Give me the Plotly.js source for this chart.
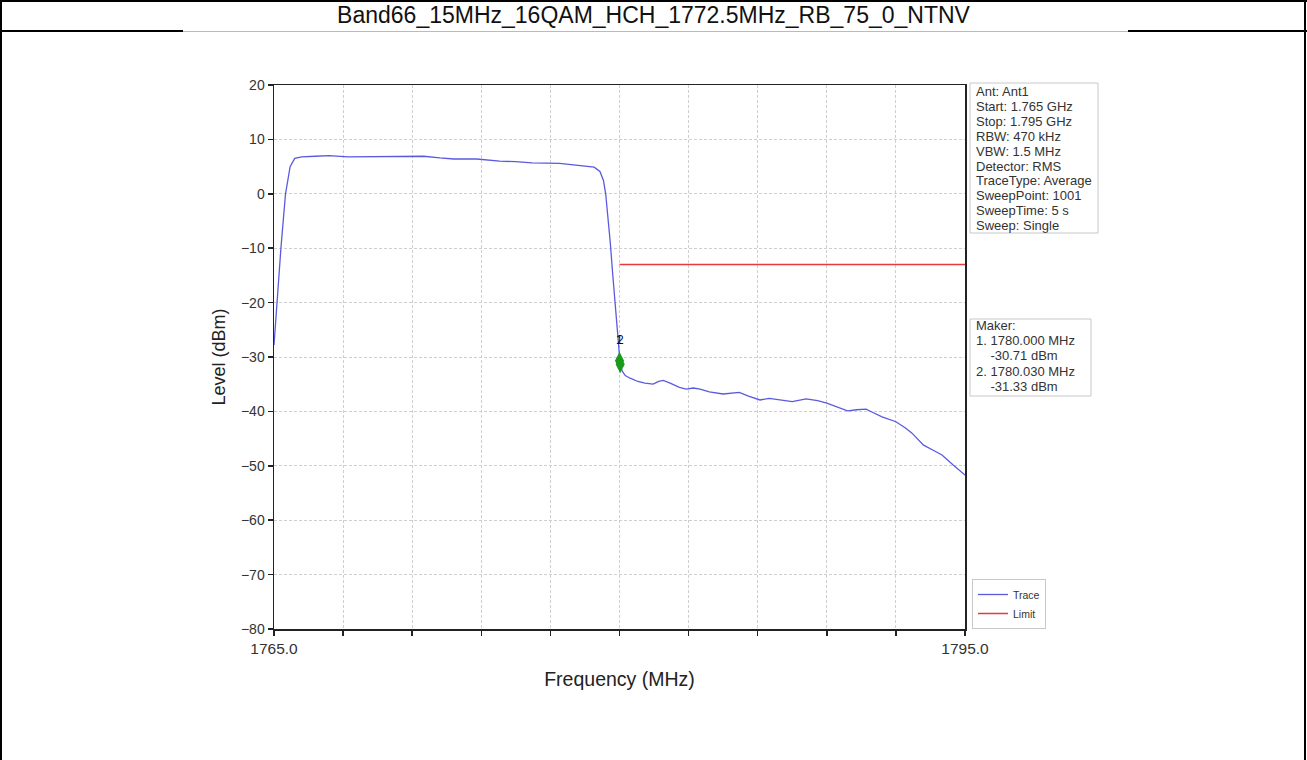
<!DOCTYPE html>
<html>
<head>
<meta charset="utf-8">
<script src="https://cdn.plot.ly/plotly-3.0.1.min.js"></script>
<style>
  html, body { margin: 0; padding: 0; background: #fff; }
  #wrap { position: relative; width: 1307px; height: 760px; overflow: hidden; }
  #chart { position: absolute; left: 0; top: 0; width: 1307px; height: 760px; }
  .ln { position: absolute; pointer-events: none; }
</style>
</head>
<body>
<div id="wrap">
  <div id="chart"></div>
  <div class="ln" style="left:0;top:0;width:1307px;height:2px;background:#000"></div>
  <div class="ln" style="left:0;top:0;width:2px;height:760px;background:#000"></div>
  <div class="ln" style="left:1304px;top:0;width:2px;height:760px;background:#000"></div>
  <div class="ln" style="left:0;top:30px;width:183px;height:2px;background:#000"></div>
  <div class="ln" style="left:183px;top:31px;width:945px;height:1px;background:#bbb"></div>
  <div class="ln" style="left:1128px;top:30px;width:179px;height:2px;background:#000"></div>
</div>
<script>
const pageTitle = "Band66_15MHz_16QAM_HCH_1772.5MHz_RB_75_0_NTNV";

const traceFreq = [1765.0, 1765.13, 1765.3, 1765.5, 1765.7, 1765.9, 1766.2, 1766.8, 1767.4, 1768.2,
  1769.0, 1769.9, 1770.8, 1771.5, 1772.2, 1772.8, 1773.8, 1774.8, 1775.5, 1776.2,
  1777.4, 1778.2, 1778.9, 1779.15, 1779.3, 1779.4, 1779.5, 1779.6, 1779.7, 1779.8,
  1779.9, 1780.0, 1780.03, 1780.12, 1780.25, 1780.46, 1780.8, 1781.1, 1781.46, 1781.7,
  1781.9, 1782.2, 1782.6, 1782.9, 1783.2, 1783.5, 1783.9, 1784.5, 1784.9, 1785.2,
  1785.6, 1786.1, 1786.5, 1787.0, 1787.5, 1788.1, 1788.6, 1789.0, 1789.5, 1789.9,
  1790.3, 1790.7, 1791.0, 1791.4, 1792.0, 1792.4, 1792.7, 1793.2, 1793.6, 1794.0,
  1794.5, 1795.0];
const traceLevel = [-27.8, -20.0, -10.0, 0.0, 5.0, 6.5, 6.8, 6.9, 7.0, 6.8,
  6.8, 6.8, 6.8, 6.9, 6.6, 6.4, 6.4, 6.0, 5.9, 5.7,
  5.6, 5.3, 4.9, 4.1, 2.5, 0.0, -4.0, -9.0, -14.5, -19.5,
  -25.0, -30.0, -31.33, -32.6, -33.4, -33.9, -34.5, -34.8, -35.0, -34.5,
  -34.3, -34.8, -35.6, -35.9, -35.7, -35.9, -36.4, -36.8, -36.6, -36.5,
  -37.2, -37.9, -37.6, -37.9, -38.2, -37.7, -38.0, -38.5, -39.3, -39.9,
  -39.7, -39.6, -40.2, -41.0, -41.9, -43.0, -44.0, -46.2, -47.1, -48.0,
  -49.9, -51.7];

const limitFreq = [1780.0, 1795.0];
const limitLevel = [-13.0, -13.0];

const markerFreq = [1780.000, 1780.030];
const markerLevel = [-30.71, -31.33];
const markerLabels = ["1", "2"];

const xTickVals = [1765, 1768, 1771, 1774, 1777, 1780, 1783, 1786, 1789, 1792, 1795];
const xTickText = ["1765.0", "", "", "", "", "", "", "", "", "", "1795.0"];
const yTickVals = [-80, -70, -60, -50, -40, -30, -20, -10, 0, 10, 20];

const infoLines = ["Ant: Ant1", "Start: 1.765 GHz", "Stop: 1.795 GHz", "RBW: 470 kHz", "VBW: 1.5 MHz",
  "Detector: RMS", "TraceType: Average", "SweepPoint: 1001", "SweepTime: 5 s", "Sweep: Single"];
const makerLines = ["Maker:", "1. 1780.000 MHz", "    -30.71 dBm", "2. 1780.030 MHz", "    -31.33 dBm"];

const FONT = "Liberation Sans, Arial, sans-serif";

// plot area in pixels (for placing text boxes outside the axes)
const PL = 274, PR = 965, PT = 85, PB = 629;
const px2x = p => (p - PL) / (PR - PL);
const px2y = p => (PB - p) / (PB - PT);

const data = [
  { x: traceFreq, y: traceLevel, type: "scatter", mode: "lines", name: "Trace",
    line: { color: "#5a5ae0", width: 1.3 } },
  { x: limitFreq, y: limitLevel, type: "scatter", mode: "lines", name: "Limit",
    line: { color: "#e83a3a", width: 1.5 } },
  { x: markerFreq, y: markerLevel, type: "scatter", mode: "markers", showlegend: false,
    marker: { symbol: "diamond-tall", color: "#1a9a1a", size: 13 } }
];

const annotations = [];
const shapes = [
  { type: "rect", xref: "paper", yref: "paper", x0: px2x(970), x1: px2x(1098), y0: px2y(233), y1: px2y(83),
    line: { color: "#c8c8c8", width: 1 }, fillcolor: "#fff", layer: "above" },
  { type: "rect", xref: "paper", yref: "paper", x0: px2x(970), x1: px2x(1091), y0: px2y(396), y1: px2y(319),
    line: { color: "#c8c8c8", width: 1 }, fillcolor: "#fff", layer: "above" }
];
infoLines.forEach((t, i) => {
  annotations.push({ xref: "paper", yref: "paper", x: px2x(974), y: px2y(92 + i * 14.8),
    xanchor: "left", yanchor: "middle", text: t, showarrow: false, align: "left",
    font: { family: FONT, size: 13, color: "#333" } });
});
makerLines.forEach((t, i) => {
  annotations.push({ xref: "paper", yref: "paper", x: px2x(974), y: px2y(325 + i * 15.4),
    xanchor: "left", yanchor: "middle", text: t.replace(/ /g, "&nbsp;"), showarrow: false, align: "left",
    font: { family: FONT, size: 13, color: "#333" } });
});
markerFreq.forEach((f, i) => {
  annotations.push({ x: f, y: markerLevel[0] + 3.9, xref: "x", yref: "y", text: markerLabels[i],
    showarrow: false, font: { family: FONT, size: 12, color: "#111" } });
});

const layout = {
  width: 1307, height: 760,
  paper_bgcolor: "#fff", plot_bgcolor: "#fff",
  margin: { l: PL, r: 1307 - PR, t: PT, b: 760 - PB, pad: 0 },
  title: { text: pageTitle, x: 0.5, xanchor: "center", xref: "container",
    y: 1 - 15 / 760, yref: "container", yanchor: "middle",
    font: { family: FONT, size: 23, color: "#111" } },
  showlegend: true,
  legend: { x: px2x(972), y: 0.0, xanchor: "left", yanchor: "bottom",
    bordercolor: "#c8c8c8", borderwidth: 1, bgcolor: "#fff",
    font: { family: FONT, size: 10.5, color: "#333" }, tracegroupgap: 0, itemwidth: 30 },
  xaxis: {
    range: [1765, 1795], tickmode: "array", tickvals: xTickVals, ticktext: xTickText,
    showline: true, linecolor: "#222", linewidth: 1.5, mirror: true,
    ticks: "outside", ticklen: 5, tickcolor: "#222", tickwidth: 1.5,
    showgrid: true, gridcolor: "#cfcfcf", gridwidth: 1, griddash: "3px,2px",
    zeroline: false, tickfont: { family: FONT, size: 15.5, color: "#333" },
    title: { text: "Frequency (MHz)", font: { family: FONT, size: 19.5, color: "#222" }, standoff: 16 }
  },
  yaxis: {
    range: [-80, 20], tickmode: "array", tickvals: yTickVals,
    showline: true, linecolor: "#222", linewidth: 1.5, mirror: true,
    ticks: "outside", ticklen: 5, tickcolor: "#222", tickwidth: 1.5,
    showgrid: true, gridcolor: "#cfcfcf", gridwidth: 1, griddash: "3px,2px",
    zeroline: false, tickfont: { family: FONT, size: 14, color: "#333" },
    title: { text: "Level (dBm)", font: { family: FONT, size: 18, color: "#222" }, standoff: 10 }
  },
  shapes: shapes,
  annotations: annotations
};

Plotly.newPlot("chart", data, layout, { displayModeBar: false, staticPlot: true });
</script>
</body>
</html>
